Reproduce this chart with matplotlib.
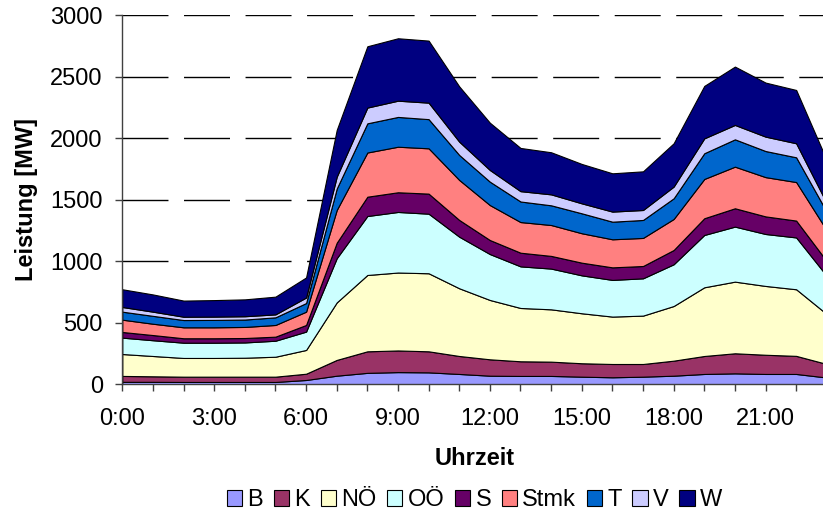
import matplotlib
matplotlib.use("Agg")
import matplotlib.pyplot as plt
import numpy as np

plt.rcParams['font.family'] = ['Liberation Sans', 'DejaVu Sans']

hours = list(range(24))
xtick_labels = ["0:00", "3:00", "6:00", "9:00", "12:00", "15:00", "18:00", "21:00"]
series_names = ["B", "K", "NÖ", "OÖ", "S", "Stmk", "T", "V", "W"]

B = [20, 20, 19, 19, 19, 19, 35, 70, 93, 99, 97, 84, 70, 68, 68, 62, 57, 62, 70, 84, 89, 84, 84, 55]
K = [48, 45, 43, 43, 43, 43, 51, 128, 175, 176, 171, 146, 133, 119, 116, 109, 108, 103, 122, 146, 163, 156, 147, 110]
NOE = [178, 165, 152, 152, 154, 162, 193, 467, 620, 633, 634, 550, 482, 433, 425, 406, 385, 393, 444, 558, 582, 559, 541, 405]
OOE = [133, 128, 124, 124, 124, 130, 149, 359, 479, 492, 484, 419, 373, 338, 331, 308, 298, 303, 339, 425, 447, 422, 421, 310]
S = [46, 42, 36, 36, 36, 33, 54, 126, 157, 160, 163, 136, 114, 111, 103, 103, 102, 100, 116, 136, 149, 143, 137, 120]
Stmk = [100, 92, 89, 89, 90, 95, 108, 266, 359, 370, 368, 325, 284, 249, 251, 239, 228, 228, 252, 319, 338, 319, 313, 250]
T = [65, 64, 59, 60, 60, 62, 70, 174, 237, 242, 237, 203, 190, 167, 160, 162, 143, 146, 168, 209, 222, 212, 201, 150]
V = [38, 34, 27, 27, 27, 24, 45, 96, 128, 132, 134, 108, 95, 84, 89, 81, 82, 81, 95, 121, 117, 117, 114, 70]
W = [144, 140, 131, 134, 137, 144, 163, 380, 498, 507, 504, 449, 384, 351, 342, 320, 311, 314, 352, 426, 474, 439, 433, 350]

colors = ["#9999FF", "#993366", "#FFFFCC", "#CCFFFF", "#660066",
          "#FF8080", "#0066CC", "#CCCCFF", "#000080"]

W_PX, H_PX = 823, 524
fig = plt.figure(figsize=(W_PX / 100, H_PX / 100), dpi=100)

left_px, right_px, top_px, bottom_px = 122.3, 826.8, 15.0, 384.3
ax = fig.add_axes([left_px / W_PX, 1 - bottom_px / H_PX,
                   (right_px - left_px) / W_PX, (bottom_px - top_px) / H_PX])

polys = ax.stackplot(hours, B, K, NOE, OOE, S, Stmk, T, V, W,
                     labels=series_names, colors=colors,
                     edgecolor="black", linewidth=0.8, zorder=3)

ax.set_xlim(0, 23)
ax.set_ylim(0, 3000)
ax.set_yticks(np.arange(0, 3001, 500))
ax.set_xticks(hours)
ax.set_xticklabels([xtick_labels[h // 3] if h % 3 == 0 else "" for h in hours])

ax.yaxis.grid(True, color="black", linewidth=1.0, dashes=(33.1, 11.2), zorder=0)
ax.set_axisbelow(True)

for side in ["top", "right"]:
    ax.spines[side].set_visible(False)
for side in ["left", "bottom"]:
    ax.spines[side].set_color("#404040")
    ax.spines[side].set_linewidth(1.0)
    ax.spines[side].set_zorder(4)

ax.tick_params(axis="both", direction="out", length=5, width=1.0,
               color="#404040", labelsize=17, labelcolor="black")
ax.tick_params(axis="y", pad=9)
ax.tick_params(axis="x", pad=12)

ax.set_ylabel("Leistung [MW]", fontsize=17, fontweight="bold", labelpad=9)
ax.set_xlabel("Uhrzeit", fontsize=17, fontweight="bold", labelpad=12)

fig.legend(handles=polys, labels=series_names, loc="center",
           bbox_to_anchor=((left_px + right_px) / 2 / W_PX, 1 - 500 / H_PX),
           ncol=9, frameon=False, fontsize=17, handlelength=0.65,
           handleheight=0.65, handletextpad=0.22, columnspacing=0.45,
           borderaxespad=0, borderpad=0)

fig.savefig("out.png", dpi=100)
